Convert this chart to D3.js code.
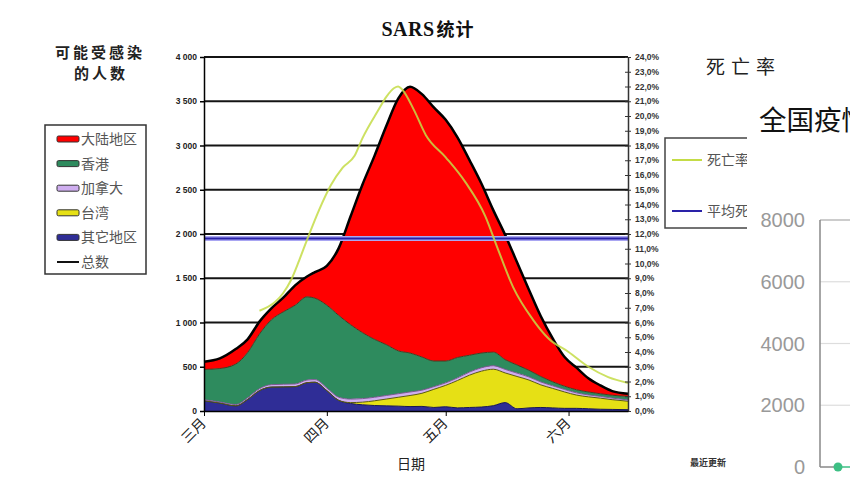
<!DOCTYPE html>
<html><head><meta charset="utf-8">
<script src="https://cdn.jsdelivr.net/npm/d3@7"></script>
<style>body{margin:0;background:#fff;} svg{display:block;}</style>
</head><body><svg id="c" width="850" height="478"></svg>
<script>
// ---------- DATA ----------
const dates = ['2003-03-01','2003-03-05','2003-03-09','2003-03-12','2003-03-15','2003-03-18','2003-03-21','2003-03-24','2003-03-27','2003-03-29','2003-04-01','2003-04-04','2003-04-07','2003-04-10','2003-04-13','2003-04-16','2003-04-19','2003-04-22','2003-04-25','2003-04-28','2003-05-01','2003-05-04','2003-05-07','2003-05-10','2003-05-13','2003-05-16','2003-05-19','2003-05-22','2003-05-25','2003-05-28','2003-05-31','2003-06-03','2003-06-06','2003-06-09','2003-06-12','2003-06-16'];
const others   = [116,90,58,130,230,270,272,275,320,325,230,120,85,70,62,58,55,50,52,40,48,35,40,45,60,95,25,35,40,35,30,30,25,20,18,15];
const taiwan   = [0,0,0,0,0,0,0,0,0,0,0,0,10,30,53,77,100,125,148,205,242,310,365,405,412,335,365,315,255,220,185,150,135,125,110,95];
const canada   = [12,12,15,18,22,28,30,30,30,30,30,35,40,40,40,40,40,40,35,30,28,30,35,38,40,40,38,35,33,30,28,25,22,20,18,15];
const hongkong = [342,378,457,512,618,732,818,890,940,920,935,925,840,745,655,575,485,440,375,290,247,230,190,167,153,110,92,75,62,45,37,35,33,30,32,40];
const mainland = [87,115,170,150,140,130,160,225,230,295,445,760,1225,1675,2070,2470,2850,3010,2970,2865,2725,2485,2205,1915,1605,1410,1160,910,680,490,330,250,155,95,47,30];

const rateDates = ['2003-03-15','2003-03-19','2003-03-21','2003-03-23','2003-03-25','2003-03-27','2003-03-30','2003-04-02','2003-04-05','2003-04-08','2003-04-10','2003-04-14','2003-04-16','2003-04-18','2003-04-19','2003-04-20','2003-04-23','2003-04-26','2003-05-01','2003-05-06','2003-05-11','2003-05-14','2003-05-18','2003-05-23','2003-05-27','2003-06-01','2003-06-06','2003-06-11','2003-06-16'];
const deathRate = [6.8,7.4,8.0,8.9,10.2,11.6,13.6,15.3,16.5,17.3,18.5,20.4,21.3,21.9,22.0,21.8,20.4,18.7,17.2,15.5,13.2,11.1,8.4,6.2,4.9,4.0,3.0,2.3,1.9];
const avgDeathRate = 11.7;

const leftTicks = [0,500,1000,1500,2000,2500,3000,3500,4000];
const leftTickLabels = ['0','500','1 000','1 500','2 000','2 500','3 000','3 500','4 000'];
const rightTicks = d3.range(0,25);
const monthDates = ['2003-03-01','2003-04-01','2003-05-01','2003-06-01'];
const monthLabels = ['三月','四月','五月','六月'];
const seriesNames = {mainland:'大陆地区',hongkong:'香港',canada:'加拿大',taiwan:'台湾',others:'其它地区'};

// right (overlapping) panel
const rpTicks = [0,2000,4000,6000,8000];
const rpValues = [0,0];

// ---------- DRAW ----------
const svg = d3.select('#c');
svg.append('rect').attr('width',850).attr('height',478).attr('fill','#fff');
const defs = svg.append('defs');
defs.append('clipPath').attr('id','legclip').append('rect').attr('x',600).attr('y',130).attr('width',147).attr('height',110);
const parse = d3.timeParse('%Y-%m-%d');
const x = d3.scaleTime().domain([parse('2003-03-01'), parse('2003-06-16')]).range([204,628]);
const yL = d3.scaleLinear().domain([0,4000]).range([411,57]);
const yR = d3.scaleLinear().domain([0,24]).range([411,57]);
const CJK = "'Noto Sans CJK SC', sans-serif";
const NUM = "'Liberation Sans', Arial, sans-serif";

const colors = {others:'#2f2d96',taiwan:'#e6e015',canada:'#cfaef0',hongkong:'#2e8b5e',mainland:'#ff0000'};
const strokes = {others:'#1a1850',taiwan:'#5a5a10',canada:'#7a5a90',hongkong:'#4a3a20',mainland:'#300000'};

// gridlines
svg.append('g').selectAll('line').data(leftTicks.filter(v=>v>0)).join('line')
  .attr('x1',204).attr('x2',628).attr('y1',d=>yL(d)).attr('y2',d=>yL(d))
  .attr('stroke','#141414').attr('stroke-width',2);

// stacked areas
const rows = dates.map((d,i)=>({date:parse(d),others:others[i],taiwan:taiwan[i],canada:canada[i],hongkong:hongkong[i],mainland:mainland[i]}));
const keys = ['others','taiwan','canada','hongkong','mainland'];
const stacked = d3.stack().keys(keys)(rows);
const area = d3.area().x(d=>x(d.data.date)).y0(d=>yL(d[0])).y1(d=>yL(d[1])).curve(d3.curveMonotoneX);
svg.append('g').selectAll('path').data(stacked.slice().reverse()).join('path')
  .attr('d',area).attr('fill',d=>colors[d.key]);
const topLine = d3.line().x(d=>x(d.data.date)).y(d=>yL(d[1])).curve(d3.curveMonotoneX);
svg.append('g').selectAll('path').data(stacked.slice(0,4)).join('path')
  .attr('d',topLine).attr('fill','none').attr('stroke',d=>strokes[d.key]).attr('stroke-width',1);
// total
svg.append('path').datum(stacked[4]).attr('d',topLine).attr('fill','none')
  .attr('stroke','#000').attr('stroke-width',2.5);

// avg death rate line
svg.append('line').attr('x1',204).attr('x2',628).attr('y1',yR(avgDeathRate)).attr('y2',yR(avgDeathRate))
  .attr('stroke','#a9a6f2').attr('stroke-width',5);
svg.append('line').attr('x1',204).attr('x2',628).attr('y1',yR(avgDeathRate)).attr('y2',yR(avgDeathRate))
  .attr('stroke','#2a22a8').attr('stroke-width',2);

// death rate line
const rl = d3.line().x((d,i)=>x(parse(rateDates[i]))).y(d=>yR(d)).curve(d3.curveMonotoneX);
svg.append('path').datum(deathRate).attr('d',rl).attr('fill','none')
  .attr('stroke','#c4dc46').attr('stroke-width',2).attr('stroke-opacity',0.85);

// left axis
const gl = svg.append('g').attr('transform','translate(204,0)')
  .call(d3.axisLeft(yL).tickValues(leftTicks).tickFormat((d,i)=>leftTickLabels[i]).tickSize(4).tickSizeOuter(0));
gl.select('.domain').attr('stroke','#000').attr('stroke-width',1.5);
gl.selectAll('.tick line').attr('stroke','#000').attr('stroke-width',1.5);
gl.selectAll('.tick text').attr('font-family',NUM).attr('font-size',8.5).attr('font-weight','bold').attr('fill','#222').attr('x',-7);

// right axis
const gr = svg.append('g').attr('transform','translate(628,0)')
  .call(d3.axisRight(yR).tickValues(rightTicks).tickFormat(d=>d3.format('.1f')(d).replace('.',',')+'%').tickSize(3).tickSizeOuter(0));
gr.select('.domain').attr('stroke','#333').attr('stroke-width',1.5);
gr.selectAll('.tick line').attr('x1',-3).attr('stroke','#333');
gr.selectAll('.tick text').attr('font-family',NUM).attr('font-size',8.5).attr('font-weight','bold').attr('fill','#333').attr('x',7);

// bottom axis
const gb = svg.append('g').attr('transform','translate(0,411)')
  .call(d3.axisBottom(x).tickValues(monthDates.map(parse)).tickFormat('').tickSize(5).tickSizeOuter(0));
gb.select('.domain').attr('stroke','#000').attr('stroke-width',1.5);
gb.selectAll('.tick line').attr('stroke','#000');
svg.append('g').selectAll('text').data(monthLabels).join('text')
  .attr('transform',(d,i)=>`translate(${x(parse(monthDates[i]))+3},${424}) rotate(-45)`)
  .attr('text-anchor','end').attr('font-family',CJK).attr('font-size',14).attr('fill','#222').text(d=>d);

// titles
const title = svg.append('text').attr('x',428).attr('y',36).attr('text-anchor','middle').attr('fill','#111').attr('font-weight','bold');
title.append('tspan').attr('font-family',"'Liberation Serif', serif").attr('font-size',20).attr('letter-spacing',0.5).text('SARS');
title.append('tspan').attr('font-family',CJK).attr('font-size',18).attr('letter-spacing',1).attr('dx',2).text('统计');
svg.append('text').attr('x',100).attr('y',58).attr('text-anchor','middle').attr('font-family',CJK).attr('font-size',15).attr('letter-spacing',3).attr('font-weight','bold').attr('fill','#222').text('可能受感染');
svg.append('text').attr('x',101).attr('y',79).attr('text-anchor','middle').attr('font-family',CJK).attr('font-size',15).attr('letter-spacing',3).attr('font-weight','bold').attr('fill','#222').text('的人数');
svg.append('text').attr('x',411).attr('y',469).attr('text-anchor','middle').attr('font-family',CJK).attr('font-size',14).attr('fill','#222').text('日期');
svg.append('text').attr('x',706).attr('y',74).attr('font-family',CJK).attr('font-size',19).attr('letter-spacing',6).attr('fill','#222').text('死亡率');
svg.append('text').attr('x',690).attr('y',466).attr('font-family',CJK).attr('font-size',9).attr('font-weight','bold').attr('fill','#333').text('最近更新');

// left legend
svg.append('rect').attr('x',45).attr('y',125).attr('width',101).attr('height',149).attr('fill','#fff').attr('stroke','#333').attr('stroke-width',1.5);
const legKeys = ['mainland','hongkong','canada','taiwan','others'];
const lg = svg.append('g').selectAll('g').data(legKeys).join('g').attr('transform',(d,i)=>`translate(57,${139+i*24.6})`);
lg.append('rect').attr('x',0).attr('y',-3).attr('width',22).attr('height',6).attr('rx',1.5).attr('fill',d=>colors[d]).attr('stroke','#333').attr('stroke-width',1);
lg.append('text').attr('x',24).attr('y',5).attr('font-family',CJK).attr('font-size',14).attr('fill','#555').text(d=>seriesNames[d]);
svg.append('line').attr('x1',57).attr('x2',79).attr('y1',262).attr('y2',262).attr('stroke','#111').attr('stroke-width',2);
svg.append('text').attr('x',81).attr('y',267).attr('font-family',CJK).attr('font-size',14).attr('fill','#555').text('总数');

// right legend (partly covered)
const rlg = svg.append('g').attr('clip-path','url(#legclip)');
rlg.append('rect').attr('x',665).attr('y',138).attr('width',130).attr('height',90).attr('fill','#fff').attr('stroke','#444').attr('stroke-width',1.5);
rlg.append('line').attr('x1',672).attr('x2',702).attr('y1',160).attr('y2',160).attr('stroke','#c4dc46').attr('stroke-width',2);
rlg.append('text').attr('x',707).attr('y',165).attr('font-family',CJK).attr('font-size',14).attr('fill','#555').text('死亡率');
rlg.append('line').attr('x1',672).attr('x2',702).attr('y1',211).attr('y2',211).attr('stroke','#2a22a8').attr('stroke-width',2);
rlg.append('text').attr('x',707).attr('y',216).attr('font-family',CJK).attr('font-size',14).attr('fill','#555').text('平均死亡率');

// ---------- overlapping right panel ----------
const ov = svg.append('g');
ov.append('rect').attr('x',747).attr('y',92).attr('width',110).attr('height',390).attr('fill','#fff');
ov.append('text').attr('x',759).attr('y',130).attr('font-family',CJK).attr('font-size',27.5).attr('fill','#111').text('全国疫情');
const yP = d3.scaleLinear().domain([0,8000]).range([467,220]);
ov.append('g').selectAll('line').data(rpTicks.filter(v=>v>0)).join('line')
  .attr('x1',820).attr('x2',852).attr('y1',d=>yP(d)).attr('y2',d=>yP(d)).attr('stroke',d=>d===8000?'#aaa':'#ddd').attr('stroke-width',1.2);
ov.append('line').attr('x1',820).attr('x2',820).attr('y1',yP(8000)).attr('y2',yP(0)).attr('stroke','#888').attr('stroke-width',1.5);
ov.append('line').attr('x1',820).attr('x2',838).attr('y1',yP(0)).attr('y2',yP(0)).attr('stroke','#888').attr('stroke-width',1.5);
ov.append('g').selectAll('text').data(rpTicks).join('text')
  .attr('x',805).attr('y',d=>yP(d)+7).attr('text-anchor','end').attr('font-family',"'Liberation Sans', Arial, sans-serif").attr('font-size',20).attr('fill','#999').text(d=>d);
const xP = d3.scaleLinear().domain([0,1]).range([838,862]);
ov.append('path').datum(rpValues).attr('d',d3.line().x((d,i)=>xP(i)).y(d=>yP(d))).attr('stroke','#3dbf84').attr('stroke-width',1.5).attr('fill','none');
ov.append('circle').attr('cx',xP(0)).attr('cy',yP(rpValues[0])).attr('r',4.5).attr('fill','#3dbf84');
</script></body></html>
